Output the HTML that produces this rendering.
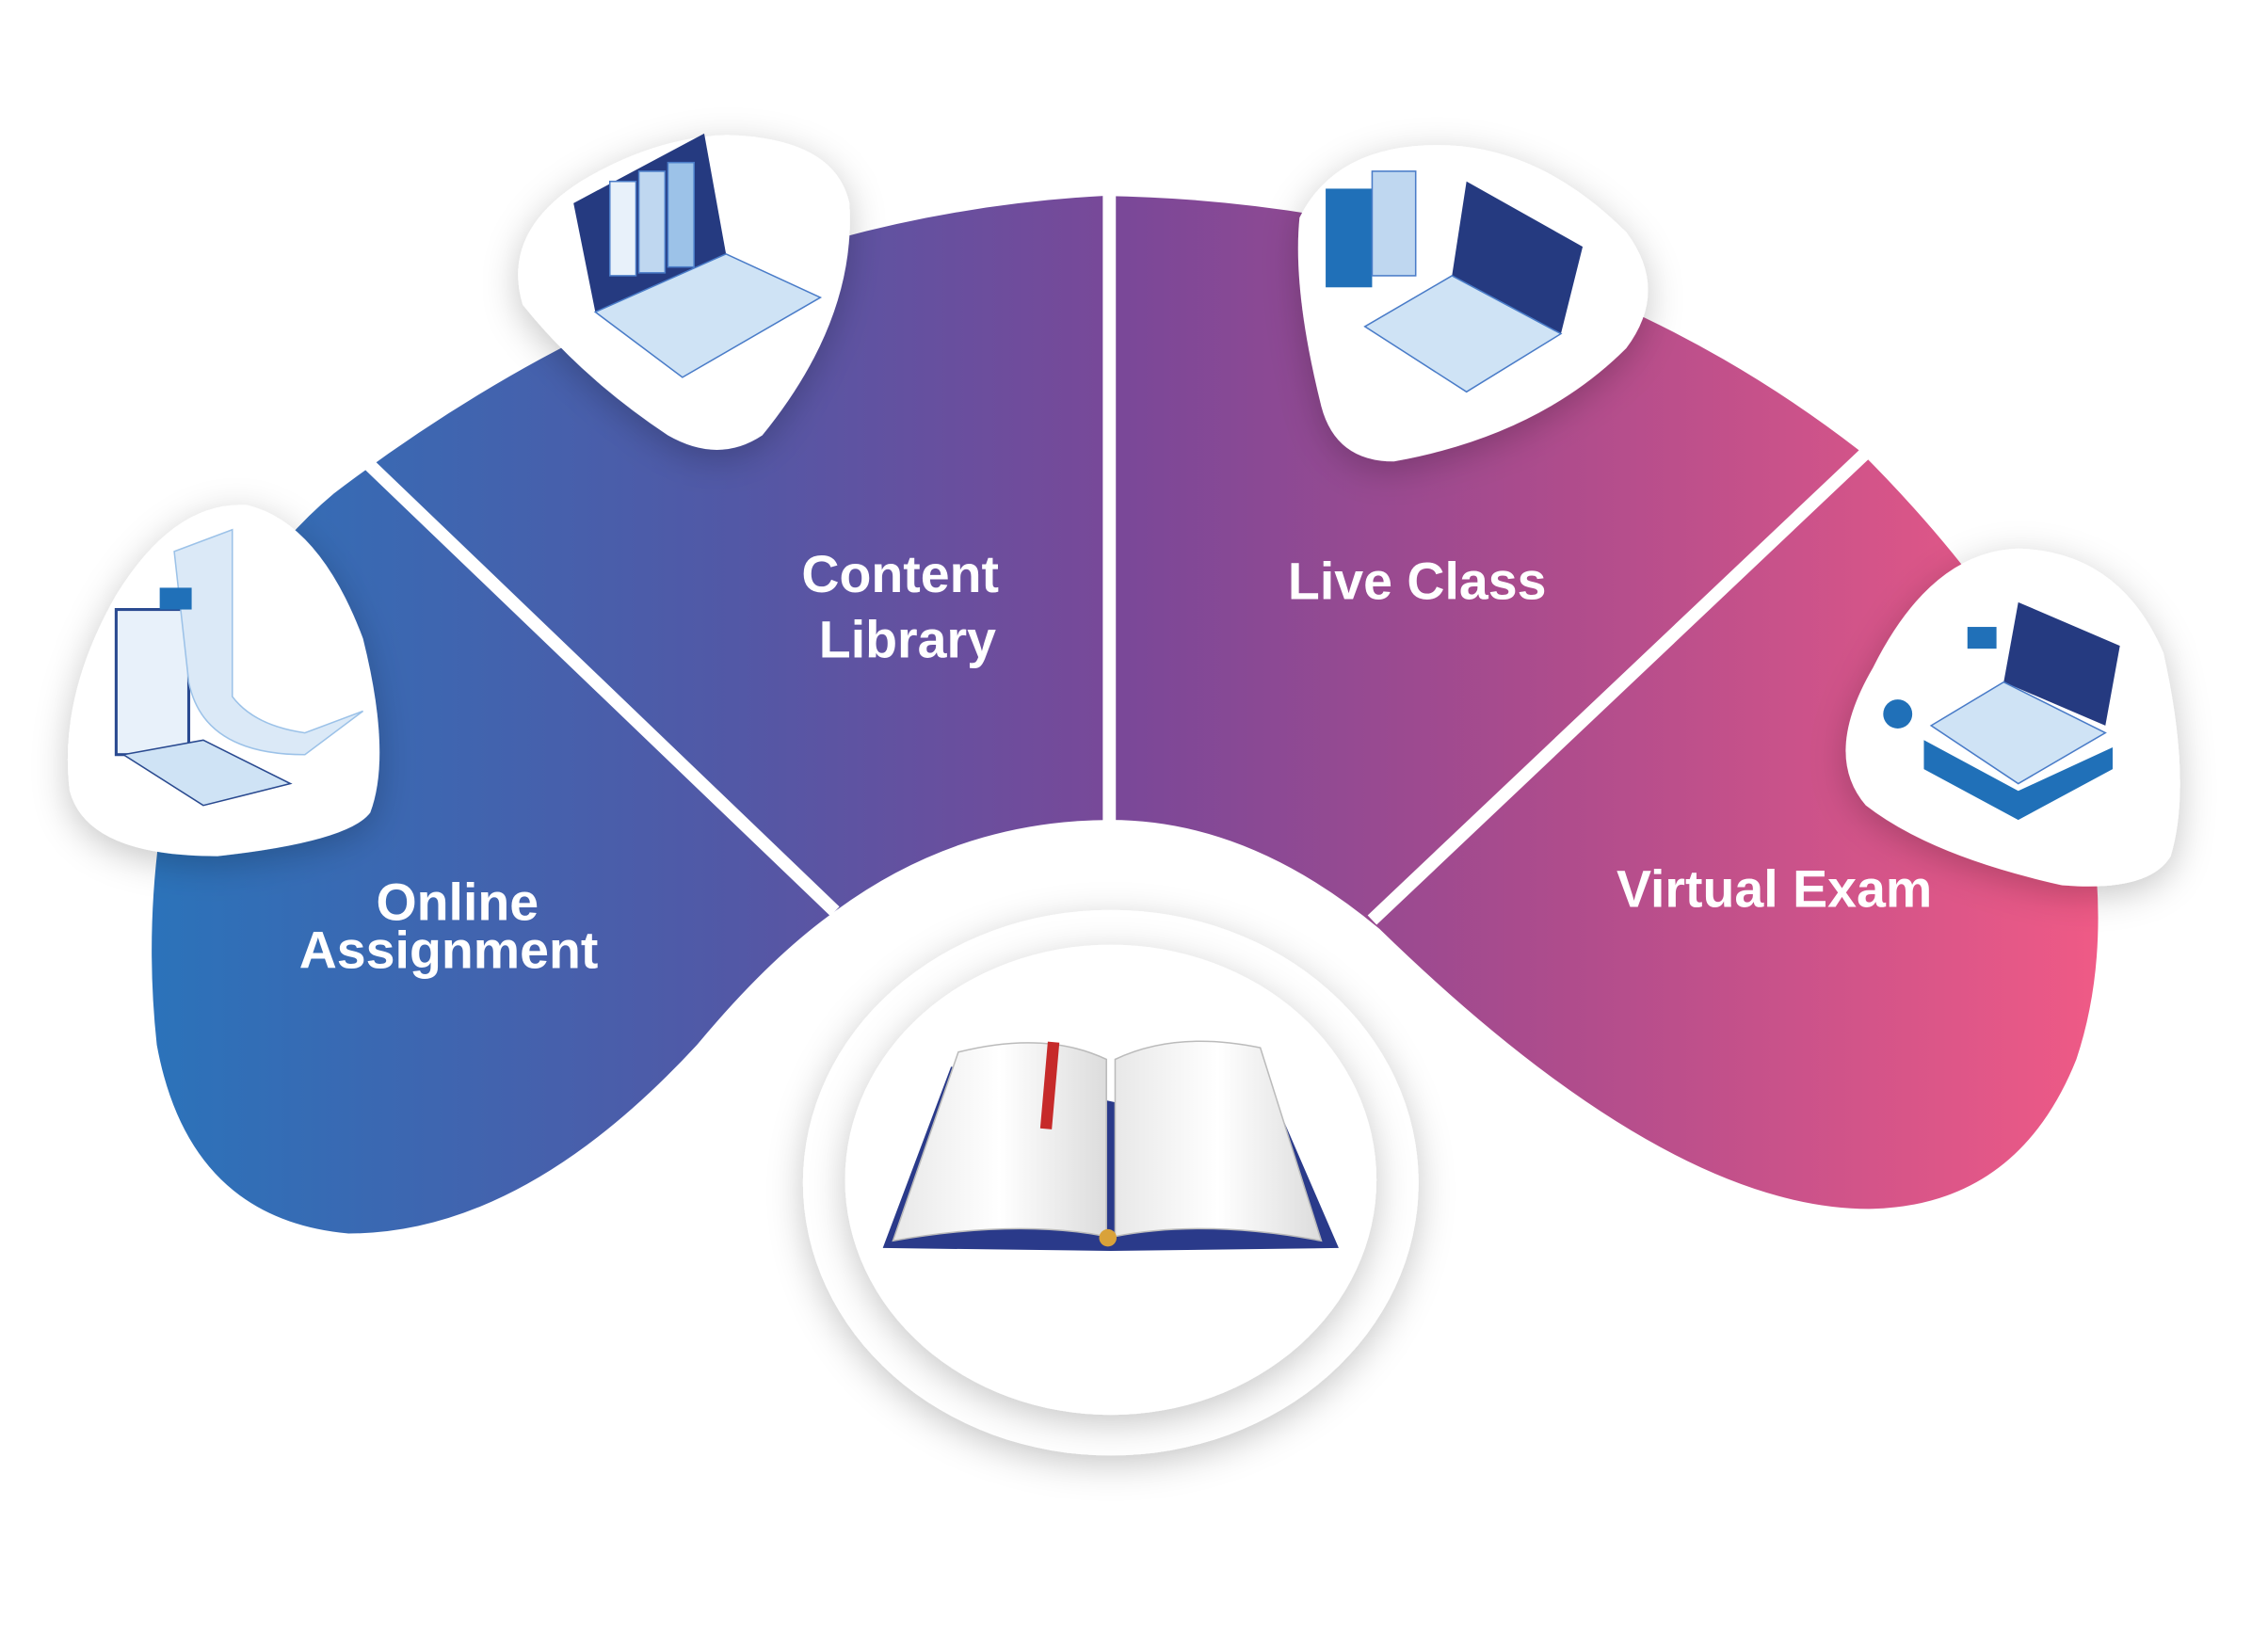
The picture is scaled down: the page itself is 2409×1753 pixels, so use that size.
<!DOCTYPE html>
<html><head><meta charset="utf-8"><style>
html,body{margin:0;padding:0;background:#fff;}
svg{display:block;}
text{font-family:"Liberation Sans",sans-serif;font-weight:bold;fill:#fff;}
</style></head><body>
<svg width="2409" height="1753" viewBox="0 0 1562 1137" preserveAspectRatio="none" xmlns="http://www.w3.org/2000/svg">
<defs>
<linearGradient id="g" x1="100" y1="0" x2="1450" y2="0" gradientUnits="userSpaceOnUse">
<stop offset="0" stop-color="#2b73ba"/>
<stop offset="0.3" stop-color="#5258a6"/>
<stop offset="0.5" stop-color="#7a4898"/>
<stop offset="0.7" stop-color="#a94b8d"/>
<stop offset="1" stop-color="#f05a86"/>
</linearGradient>
<filter id="sh" x="-30%" y="-30%" width="160%" height="160%"><feDropShadow dx="0" dy="6" stdDeviation="12" flood-color="#000" flood-opacity="0.22"/></filter>
<linearGradient id="pg" x1="0" y1="0" x2="1" y2="0"><stop offset="0" stop-color="#e8e8e8"/><stop offset="0.5" stop-color="#fff"/><stop offset="1" stop-color="#dcdcdc"/></linearGradient>
</defs>
<!-- main blob -->
<path fill="url(#g)" d="M230 340 Q480 150 760 135 Q1060 140 1280 310 Q1390 420 1430 520 Q1460 640 1430 730 Q1390 830 1290 833 Q1150 835 950 640 Q860 565 765 565 Q660 565 575 628 Q530 660 480 720 Q360 850 240 850 Q130 840 108 720 Q95 600 130 480 Q170 390 230 340 Z"/>
<!-- dividers -->
<g stroke="#fff" stroke-width="9">
<line x1="575" y1="628" x2="252" y2="318"/>
<line x1="764" y1="568" x2="764" y2="125"/>
<line x1="945" y1="634" x2="1285" y2="312"/>
</g>
<!-- center circles -->
<ellipse cx="765" cy="815" rx="212" ry="188" fill="#fff" filter="url(#sh)"/>
<ellipse cx="765" cy="813" rx="183" ry="162" fill="#fff" filter="url(#sh)"/>
<!-- book -->
<polygon points="608,860 655,735 770,760 868,735 922,860 765,862" fill="#2a3a8a"/>
<path d="M615 855 L660 725 Q720 710 762 730 L762 852 Q700 840 615 855 Z" fill="url(#pg)" stroke="#bbb"/>
<path d="M910 855 L868 722 Q810 710 768 730 L768 852 Q830 840 910 855 Z" fill="url(#pg)" stroke="#bbb"/>
<rect x="719" y="718" width="8" height="60" fill="#c62a2a" transform="rotate(5 723 748)"/>
<circle cx="763" cy="853" r="6" fill="#d9a23a"/>
<!-- icon blobs -->
<path d="M500 93 Q575 95 585 140 Q590 220 525 300 Q495 320 460 300 Q400 260 360 210 Q345 160 400 125 Q450 95 500 93 Z" fill="#fff" filter="url(#sh)"/>
<path d="M990 100 Q1060 100 1120 160 Q1150 200 1120 240 Q1060 300 960 318 Q920 318 910 280 Q890 200 895 150 Q920 100 990 100 Z" fill="#fff" filter="url(#sh)"/>
<path d="M170 348 Q220 360 250 440 Q270 520 255 560 Q240 580 150 590 Q60 590 48 545 Q40 480 80 410 Q120 345 170 348 Z" fill="#fff" filter="url(#sh)"/>
<path d="M1390 378 Q1460 380 1490 450 Q1510 540 1495 590 Q1480 615 1420 610 Q1330 590 1285 555 Q1255 520 1290 460 Q1330 380 1390 378 Z" fill="#fff" filter="url(#sh)"/>
<!-- simple laptop icons -->
<g>
<polygon points="395,140 485,92 500,175 410,215" fill="#253a80"/>
<polygon points="410,215 500,175 565,205 470,260" fill="#cfe3f5" stroke="#4a7cc8"/>
<rect x="420" y="125" width="18" height="65" fill="#e8f1fa" stroke="#4a7cc8"/>
<rect x="440" y="118" width="18" height="70" fill="#bfd7f0" stroke="#4a7cc8"/>
<rect x="460" y="112" width="18" height="72" fill="#9cc2e8" stroke="#4a7cc8"/>
</g>
<g>
<polygon points="1010,125 1090,170 1075,230 1000,190" fill="#253a80"/>
<polygon points="940,225 1000,190 1075,230 1010,270" fill="#cfe3f5" stroke="#4a7cc8"/>
<rect x="913" y="130" width="32" height="68" fill="#2070b8"/>
<rect x="945" y="118" width="30" height="72" fill="#bfd7f0" stroke="#4a7cc8"/>
</g>
<g>
<rect x="80" y="420" width="50" height="100" fill="#e8f1fa" stroke="#2a4a90" stroke-width="2"/>
<path d="M120 380 L160 365 L160 480 Q175 500 210 505 L250 490 L210 520 Q140 520 130 470 Z" fill="#dbe9f7" stroke="#9cc2e8"/>
<polygon points="85,520 140,510 200,540 140,555" fill="#cfe3f5" stroke="#2a4a90"/>
<rect x="110" y="405" width="22" height="15" fill="#2070b8"/>
</g>
<g>
<polygon points="1390,415 1460,445 1450,500 1380,470" fill="#253a80"/>
<polygon points="1330,500 1380,470 1450,505 1390,540" fill="#cfe3f5" stroke="#4a7cc8"/>
<polygon points="1325,510 1390,545 1455,515 1455,530 1390,565 1325,530" fill="#2070b8"/>
<circle cx="1307" cy="492" r="10" fill="#2070b8"/>
<rect x="1355" y="432" width="20" height="15" fill="#2070b8"/>
</g>
<!-- labels -->
<text x="620" y="408" font-size="36" text-anchor="middle">Content</text>
<text x="625" y="453" font-size="36" text-anchor="middle">Library</text>
<text x="976" y="413" font-size="36" text-anchor="middle">Live Class</text>
<text x="315" y="634" font-size="36" text-anchor="middle">Online</text>
<text x="309" y="667" font-size="36" text-anchor="middle">Assignment</text>
<text x="1222" y="625" font-size="36" text-anchor="middle">Virtual Exam</text>
</svg>
</body></html>
